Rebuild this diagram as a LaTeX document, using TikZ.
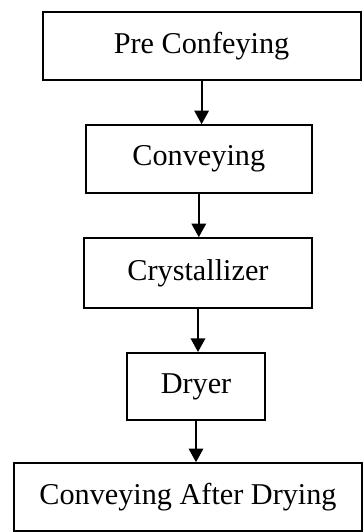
\documentclass[tikz,border=0pt]{standalone}
\usepackage{fontspec}
\setmainfont{Liberation Serif}
\usetikzlibrary{arrows.meta}

\begin{document}
\begin{tikzpicture}[
	stage/.style={shape=rectangle,draw=black,line width=1.4pt,inner sep=0pt,
		minimum height=1.7cm,font=\fontsize{21.5}{25}\selectfont},
	flow/.style={-{Triangle[length=3.4mm,width=3.6mm]},line width=1.4pt}
	]
	
	\useasboundingbox (0,0) rectangle (9.1,13.3);
	
	\node[stage,minimum width=7.95cm] (pre) at (5.04, 12.15)  {Pre Confeying};
	\node[stage,minimum width=5.65cm] (conv) at (4.97, 9.32)  {Conveying};
	\node[stage,minimum width=5.7cm,minimum height=1.75cm] (cryst) at (4.95, 6.47) {Crystallizer};
	\node[stage,minimum width=3.45cm,minimum height=1.67cm] (dry) at (4.9, 3.64) {Dryer};
	\node[stage,minimum width=8.7cm] (after) at (4.7, 0.87)  {Conveying After Drying};
	
	\path[flow] (pre.south) edge (pre.south |- conv.north);
	\path[flow] (conv.south) edge (conv.south |- cryst.north);
	\path[flow] (cryst.south) edge (cryst.south |- dry.north);
	\path[flow] (dry.south) edge (dry.south |- after.north);
	
\end{tikzpicture}
\end{document}
